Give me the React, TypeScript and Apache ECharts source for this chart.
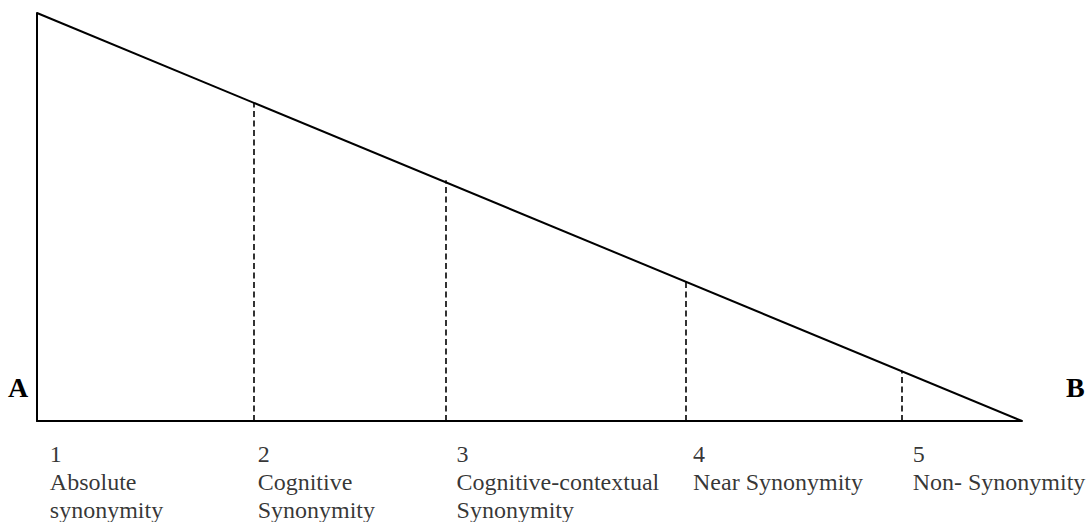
import React, { useEffect, useRef } from "react";
import * as echarts from "echarts";

// Positions along the A→B scale (0 = A, 100 = B)
const levelX = [22.0, 41.5, 65.9, 87.8];
// Height of each dashed divider where it meets the slope
const levelHeight = [78, 59, 34.5, 12.2];
// Slope from A (full) to B (none)
const slope = [
  [0, 100],
  [100, 0],
];
// Label anchors along the scale
const labelX = [1.3, 22.4, 42.6, 66.6, 88.9];
const labelNum = ["1", "2", "3", "4", "5"];
const labelText = [
  "Absolute\nsynonymity",
  "Cognitive\nSynonymity",
  "Cognitive-contextual\nSynonymity",
  "Near Synonymity",
  "Non- Synonymity",
];

const FONT = "'Liberation Serif', 'Times New Roman', serif";

export default function App() {
  const ref = useRef<HTMLDivElement>(null);
  useEffect(() => {
    if (!ref.current) return;
    const chart = echarts.init(ref.current, undefined, { renderer: "svg" });
    const axisLine = { show: true, lineStyle: { color: "#000", width: 2 } };
    chart.setOption({
      animation: false,
      backgroundColor: "#fff",
      grid: { left: 37, top: 13, width: 985, height: 408 },
      xAxis: {
        type: "value",
        min: 0,
        max: 100,
        axisLine,
        axisTick: { show: false },
        axisLabel: { show: false },
        splitLine: { show: false },
      },
      yAxis: {
        type: "value",
        min: 0,
        max: 100,
        axisLine,
        axisTick: { show: false },
        axisLabel: { show: false },
        splitLine: { show: false },
      },
      series: [
        {
          type: "line",
          data: slope,
          symbol: "none",
          lineStyle: { color: "#000", width: 2 },
          silent: true,
          markLine: {
            silent: true,
            symbol: "none",
            label: { show: false },
            lineStyle: { color: "#000", width: 1.6, type: [6, 3.5] },
            data: levelX.map((x, i) => [
              { coord: [x, 0] },
              { coord: [x, levelHeight[i]] },
            ]),
          },
        },
        {
          type: "scatter",
          symbolSize: 0,
          silent: true,
          data: labelX.map((x, i) => ({
            value: [x, 0],
            label: {
              show: true,
              formatter: labelNum[i] + "\n" + labelText[i],
            },
          })),
          label: {
            show: true,
            position: [0, 19],
            align: "left",
            verticalAlign: "top",
            color: "#000",
            fontFamily: FONT,
            fontSize: 24,
            lineHeight: 28,
          },
        },
      ],
      graphic: [
        {
          type: "text",
          left: 8,
          top: 373,
          style: {
            text: "A",
            font: `bold 28px ${FONT}`,
            fill: "#000",
          },
        },
        {
          type: "text",
          left: 1066,
          top: 373,
          style: {
            text: "B",
            font: `bold 28px ${FONT}`,
            fill: "#000",
          },
        },
      ],
    });
    return () => chart.dispose();
  }, []);
  return (
    <div
      ref={ref}
      style={{ position: "absolute", left: 0, top: 0, width: 1091, height: 522 }}
    />
  );
}
